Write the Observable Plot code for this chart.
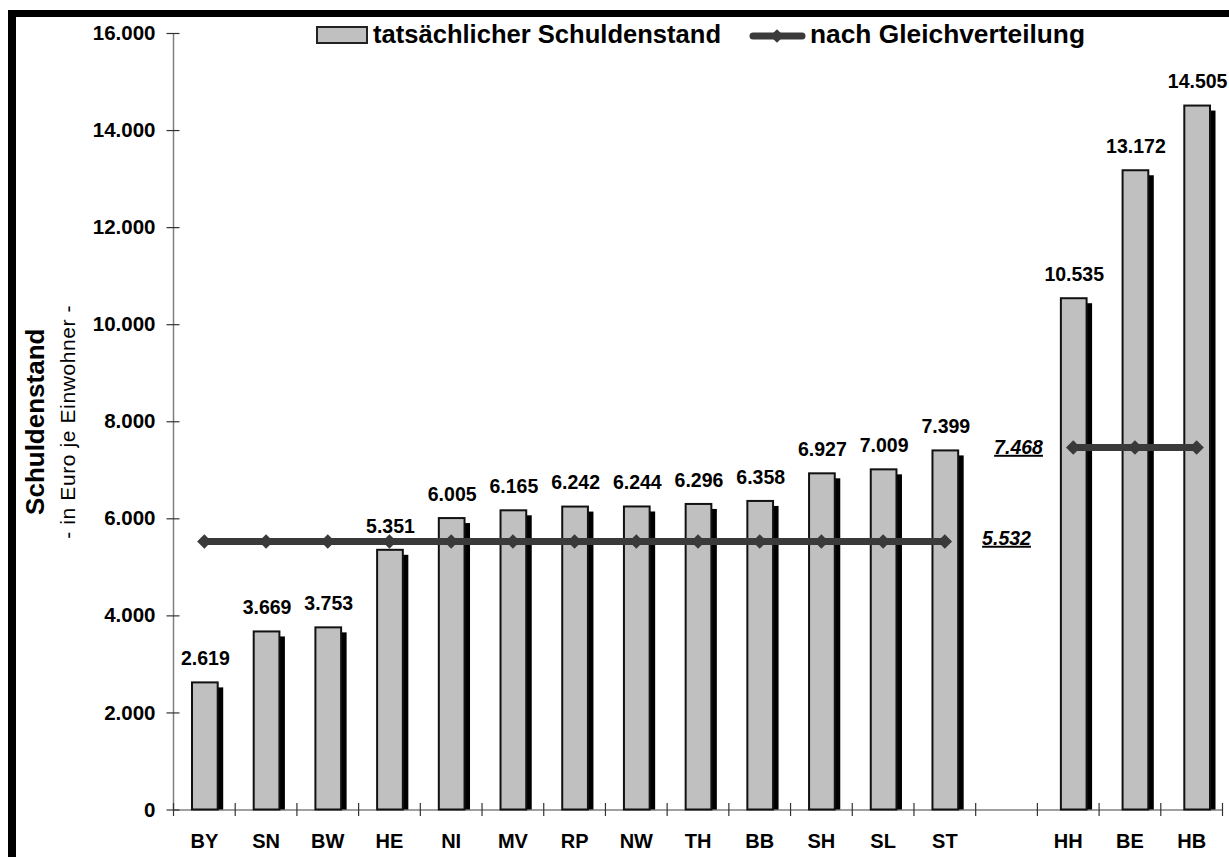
<!DOCTYPE html>
<html><head><meta charset="utf-8">
<script src="https://cdn.jsdelivr.net/npm/d3@7"></script>
<script src="https://cdn.jsdelivr.net/npm/@observablehq/plot@0.6"></script>
<style>
html,body{margin:0;padding:0;background:#fff;overflow:hidden;}
#wrap{position:relative;width:1229px;height:857px;overflow:hidden;font-family:Arial,"Liberation Sans",sans-serif;}
#frame{position:absolute;left:8px;top:10px;width:1260px;height:900px;border-left:8px solid #000;border-top:7px solid #000;box-sizing:border-box;pointer-events:none}
#legend{position:absolute;left:0;top:0}
#wrap > svg{position:absolute;left:0;top:0}
</style></head><body><div id="wrap"><div id="frame"></div></div>
<script>
// ---- data ----
const states = ["BY","SN","BW","HE","NI","MV","RP","NW","TH","BB","SH","SL","ST","HH","BE","HB"];
const debt = [2619,3669,3753,5351,6005,6165,6242,6244,6296,6358,6927,7009,7399,10535,13172,14505];
const groups = ["F","F","F","F","F","F","F","F","F","F","F","F","F","S","S","S"];
const groupNames = ["F","S"];          // Flächenländer, Stadtstaaten
const groupEven = [5532, 7468];        // Schuldenstand nach Gleichverteilung
const yTicks = [0,2000,4000,6000,8000,10000,12000,14000,16000];
const seriesNames = ["tatsächlicher Schuldenstand", "nach Gleichverteilung"];
const yTitle = "Schuldenstand";
const ySubtitle = "- in Euro je Einwohner -";

// ---- derived ----
const fmt = d3.formatLocale({decimal:",", thousands:".", grouping:[3], currency:["","€"]}).format(",d");
const rows = states.map((s,i)=>({state:s, value:debt[i], group:groups[i], slot:i + groupNames.indexOf(groups[i])}));
const lineRows = rows.map(d=>({slot:d.slot, group:d.group, value:groupEven[groupNames.indexOf(d.group)]}));
const nSlots = states.length + groupNames.length - 1;
const gapSlot = groups.filter(g=>g===groupNames[0]).length;
const lblF = [{slot:gapSlot, value:groupEven[0], group:"gap"}];
const lblS = [{slot:gapSlot, value:groupEven[1], group:"gap"}];

const W = 1229, H = 857, mL = 173, mR = 7, mT = 33, mB = 47.5;
const slotPx = (W - mL - mR) / nSlots;
const tk = 6.5 / slotPx;
const yUnitsPerPx = 16000 / (H - mT - mB);
const xt = 6.5 * yUnitsPerPx;
const lineColor = "#3a3a3a";
// the city-state group sits on a slightly shifted secondary axis in the original
const shift = d => (d.group === groupNames[1] ? 5 / slotPx : 0);
const cx = d => d.slot + 0.5 + shift(d);
const bx1 = d => d.slot + shift(d);
const bx2 = d => d.slot + 1 + shift(d);
const FONT = 'Arial, "Liberation Sans", sans-serif';

const plot = Plot.plot({
  width: W, height: H, marginLeft: mL, marginRight: mR, marginTop: mT, marginBottom: mB,
  style: {fontFamily: FONT, color: "#000", background: "transparent"},
  x: {domain: [0, nSlots], axis: null},
  y: {domain: [0, 16000]},
  marks: [
    Plot.ruleX([0], {stroke: "#808080", strokeWidth: 1.5}),
    Plot.ruleY([0], {stroke: "#808080", strokeWidth: 1.5}),
    Plot.ruleY(yTicks, {x1: -tk, x2: tk, stroke: "#333", strokeWidth: 1.2}),
    Plot.ruleX(d3.range(0, nSlots + 1), {y1: -xt, y2: xt, stroke: "#333", strokeWidth: 1.2}),
    Plot.axisY({ticks: yTicks, tickFormat: fmt, tickSize: 0, tickPadding: 18, fontSize: 20.5, fontWeight: "bold", label: null}),
    Plot.text(rows, {x: d => d.slot + 0.5, y: 0, dy: 32, text: "state", fontSize: 20, fontWeight: "bold"}),
    Plot.rectY(rows, {x1: bx1, x2: bx2, y1: 0, y2: "value", insetLeft: 19, insetRight: 17, insetBottom: 5, dx: 5.5, dy: 5, fill: "#000"}),
    Plot.rectY(rows, {x1: bx1, x2: bx2, y1: 0, y2: "value", insetLeft: 19, insetRight: 17, fill: "#c0c0c0", stroke: "#111", strokeWidth: 2}),
    Plot.text(rows, {x: cx, y: "value", dy: -24, dx: 1, text: d => fmt(d.value), fontSize: 19.5, fontWeight: "bold"}),
    Plot.line(lineRows, {x: cx, y: "value", z: "group", stroke: lineColor, strokeWidth: 7}),
    Plot.dot(lineRows, {x: cx, y: "value", symbol: "diamond2", r: 6.5, fill: lineColor, stroke: "none"}),
    Plot.text(lblF, {x: cx, y: "value", dy: -3, text: d => fmt(d.value), fontSize: 19.5, fontWeight: "bold", fontStyle: "italic"}),
    Plot.text(lblS, {x: cx, y: "value", dx: 12, text: d => fmt(d.value), fontSize: 19.5, fontWeight: "bold", fontStyle: "italic"}),
    Plot.text([yTitle], {frameAnchor: "left", textAnchor: "middle", dx: -138, rotate: -90, text: d => d, fontSize: 26, fontWeight: "bold"}),
    Plot.text([ySubtitle], {frameAnchor: "left", textAnchor: "middle", dx: -105, rotate: -90, text: d => d, fontSize: 21})
  ]
});
const wrap = document.getElementById("wrap");
wrap.insertBefore(plot, wrap.firstChild);

// double underline for the equal-distribution labels
const ulTexts = groupEven.map(fmt);
d3.select(plot).selectAll("text").filter(function(){ return ulTexts.includes(this.textContent); })
  .style("text-decoration", "underline double");
d3.select(plot).selectAll("text").filter(function(){ return this.textContent === ySubtitle; })
  .style("letter-spacing", "0.6px");

// legend
const lg = d3.select(wrap).append("svg").attr("id","legend").attr("width", W).attr("height", 60)
  .style("font-family", FONT);
lg.append("rect").attr("x", 317).attr("y", 27).attr("width", 50).attr("height", 16)
  .attr("fill", "#c0c0c0").attr("stroke", "#222").attr("stroke-width", 2);
lg.append("text").attr("x", 373).attr("y", 43).attr("font-size", 25).attr("font-weight", "bold")
  .attr("textLength", 348).attr("lengthAdjust", "spacingAndGlyphs").text(seriesNames[0]);
lg.append("line").attr("x1", 753).attr("x2", 802).attr("y1", 36).attr("y2", 36)
  .attr("stroke", lineColor).attr("stroke-width", 7).attr("stroke-linecap", "round");
lg.append("path").attr("d", d3.symbol(d3.symbolDiamond2, 120)()).attr("transform", "translate(777,36)").attr("fill", lineColor);
lg.append("text").attr("x", 810).attr("y", 43).attr("font-size", 25).attr("font-weight", "bold")
  .attr("textLength", 275).attr("lengthAdjust", "spacingAndGlyphs").text(seriesNames[1]);
</script></body></html>
